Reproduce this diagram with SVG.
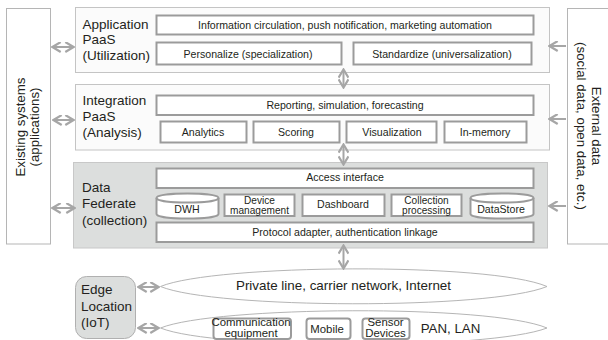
<svg xmlns="http://www.w3.org/2000/svg" width="608" height="340" viewBox="0 0 608 340">
<defs>
<marker id="a" viewBox="0 0 10 10" refX="8" refY="5" markerWidth="11" markerHeight="11" markerUnits="userSpaceOnUse" orient="auto-start-reverse"><path d="M1 0.5L8.500 5L1 9.500" fill="none" stroke="#a6a6a6" stroke-width="2"/></marker>
</defs>
<style>
text{font-family:"Liberation Sans",Arial,sans-serif;fill:#231f20;text-anchor:middle}
.o{fill:#fff;stroke:#b5b5b5;stroke-width:1}
.p{fill:#fbfbfb;stroke:#c4c4c4;stroke-width:1}
.b{fill:#fff;stroke:#9b9b9b;stroke-width:2}
.c{fill:none;stroke:#a6a6a6;stroke-width:2;marker-start:url(#a);marker-end:url(#a)}
.c1{fill:none;stroke:#a6a6a6;stroke-width:2;marker-end:url(#a)}
.h{font-size:13.5px;text-anchor:start}
.s{font-size:10.6px}
.n{font-size:10.100px}
.t{font-size:11.400px}
.l{font-size:13.300px}
</style>
<g id="existing-systems"><rect class="o" x="6.500" y="8.500" width="44" height="235.500"/>
<text class="l" transform="translate(24.500 127) rotate(-90)">Existing systems</text>
<text class="l" transform="translate(39 127) rotate(-90)">(applications)</text></g>
<g id="external-data"><rect class="o" x="567.500" y="8.500" width="45" height="235.500"/>
<text class="l" transform="translate(591.500 126) rotate(90)">External data</text>
<text class="l" transform="translate(577 126) rotate(90)">(social data, open data, etc.)</text></g>
<g id="application-paas"><rect class="p" x="75.500" y="7.500" width="474" height="65"/>
<text class="h" x="82.500" y="28.500">Application</text><text class="h" x="82.500" y="44">PaaS</text><text class="h" x="82.500" y="60">(Utilization)</text>
<rect class="b" x="156.500" y="15.500" width="377" height="19"/><text class="s" x="345" y="28.500">Information circulation, push notification, marketing automation</text>
<rect class="b" x="156.500" y="42.500" width="185" height="22"/><text class="s" x="248" y="57.500">Personalize (specialization)</text>
<rect class="b" x="353.500" y="42.500" width="178" height="22"/><text class="s" x="442" y="57.500">Standardize (universalization)</text></g>
<g id="integration-paas"><rect class="p" x="75.500" y="84.500" width="474" height="65.500"/>
<text class="h" x="82.500" y="105">Integration</text><text class="h" x="82.500" y="120.500">PaaS</text><text class="h" x="82.500" y="136.500">(Analysis)</text>
<rect class="b" x="156.500" y="95.500" width="377" height="19.500"/><text class="s" x="345" y="109">Reporting, simulation, forecasting</text>
<rect class="b" x="160.500" y="121.500" width="86" height="21"/><text class="s" x="203" y="136">Analytics</text>
<rect class="b" x="253.500" y="121.500" width="86" height="21"/><text class="s" x="296" y="136">Scoring</text>
<rect class="b" x="346.500" y="121.500" width="90" height="21"/><text class="s" x="392" y="136">Visualization</text>
<rect class="b" x="444.500" y="121.500" width="82" height="21"/><text class="s" x="485" y="136">In-memory</text></g>
<g id="data-federate"><rect x="73.500" y="162.500" width="474" height="85.500" fill="#dcdedd" stroke="#c8c8c8"/>
<text class="h" x="82" y="191.700">Data</text><text class="h" x="82" y="207.700">Federate</text><text class="h" x="82" y="225">(collection)</text>
<rect class="b" x="156.500" y="168.500" width="377" height="19.500"/><text class="s" x="345" y="181">Access interface</text>
<path class="b" d="M156.500 198c0-6 62-6 62 0v16c0 6-62 6-62 0z"/><path d="M156.500 198c0 6 62 6 62 0" fill="none" stroke="#9b9b9b" stroke-width="2"/><text class="s" x="187" y="213">DWH</text>
<rect class="b" x="224.500" y="194.500" width="70" height="21.500"/><text class="n" x="259.500" y="203.500">Device</text><text class="n" x="259.500" y="214">management</text>
<rect class="b" x="302.500" y="194.500" width="82" height="21.500"/><text class="s" x="343" y="208">Dashboard</text>
<rect class="b" x="391.500" y="194.500" width="70" height="21.500"/><text class="n" x="426.500" y="203.500">Collection</text><text class="n" x="426.500" y="214">processing</text>
<path class="b" d="M470.500 198c0-6 63-6 63 0v16c0 6-63 6-63 0z"/><path d="M470.500 198c0 6 63 6 63 0" fill="none" stroke="#9b9b9b" stroke-width="2"/><text class="s" x="501" y="213">DataStore</text>
<rect class="b" x="156.500" y="222.500" width="377" height="19.500"/><text class="s" x="345" y="236">Protocol adapter, authentication linkage</text></g>
<g id="edge-location"><rect x="75.500" y="276.500" width="60" height="62" rx="11" fill="#dcdedd" stroke="#b0b0b0"/>
<text class="h" x="81" y="294">Edge</text><text class="h" x="81" y="311">Location</text><text class="h" x="81" y="327">(IoT)</text></g>
<g id="network"><path d="M160.500 286.500C215 264 490 262 547 286.500C490 310 215 309 160.500 286.500z" fill="#fff" stroke="#b5b5b5"/>
<text x="343.500" y="290" font-size="13.400px">Private line, carrier network, Internet</text></g>
<g id="pan-lan"><path d="M160.500 328C215 306 490 304 547 328C490 350 215 350 160.500 328z" fill="#fff" stroke="#b5b5b5"/>
<text class="l" x="450.500" y="333">PAN, LAN</text>
<rect class="b" x="213.500" y="318.500" width="77.500" height="20.500" rx="3"/><text class="t" x="251" y="326">Communication</text><text class="t" x="251" y="337">equipment</text>
<rect class="b" x="306.500" y="318.500" width="44" height="20.500" rx="3"/><text class="t" x="327" y="333">Mobile</text>
<rect class="b" x="362.500" y="318.500" width="47" height="20.500" rx="3"/><text class="t" x="385.500" y="326">Sensor</text><text class="t" x="385.500" y="337">Devices</text></g>
<g id="connectors">
<path class="c" d="M53 47H73"/><path class="c" d="M54 120H73"/><path class="c" d="M53 208H74"/>
<path class="c1" d="M566 46H550"/><path class="c1" d="M566 119H550"/><path class="c1" d="M566 206H550"/>
<path class="c" d="M343.500 70V87"/><path class="c" d="M343.500 145V164"/><path class="c" d="M343.500 246V268"/>
<path class="c" d="M139 287H158"/><path class="c" d="M139 328H158"/>
</g>
</svg>
